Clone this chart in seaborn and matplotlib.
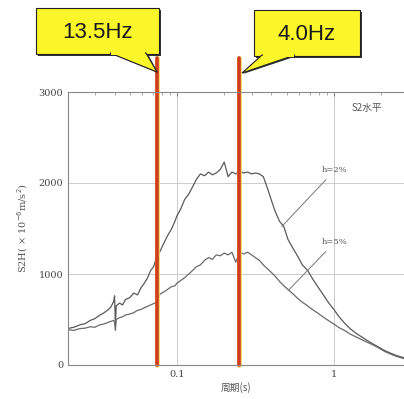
import numpy as np
import pandas as pd
import matplotlib
matplotlib.use("Agg")
import matplotlib.pyplot as plt
import seaborn as sns
from matplotlib.patches import Polygon, Rectangle
from matplotlib.ticker import MultipleLocator, FixedLocator

# periods (s) and spectrum values
periods = [0.020, 0.022, 0.024, 0.026, 0.028, 0.030, 0.032, 0.034, 0.036, 0.038,
           0.0395, 0.040, 0.0405, 0.041, 0.043, 0.045, 0.047, 0.050, 0.053, 0.056,
           0.059, 0.062, 0.065, 0.068, 0.071, 0.074, 0.078, 0.082, 0.087, 0.092,
           0.097, 0.10, 0.106, 0.112, 0.119, 0.126, 0.133, 0.141, 0.150, 0.159,
           0.168, 0.178, 0.189, 0.200, 0.212, 0.224, 0.237, 0.251, 0.266, 0.282,
           0.299, 0.316, 0.335, 0.355, 0.376, 0.398, 0.42, 0.45, 0.48, 0.51,
           0.55, 0.59, 0.63, 0.68, 0.73, 0.79, 0.85, 0.92, 1.0, 1.08,
           1.17, 1.27, 1.38, 1.5, 1.63, 1.78, 1.94, 2.1, 2.3, 2.5, 2.8]
h2 = [400, 415, 440, 455, 490, 510, 545, 570, 600, 640,
      700, 760, 430, 650, 680, 660, 720, 740, 790, 770,
      850, 900, 960, 1040, 1080, 1180, 1250, 1330, 1420, 1490,
      1580, 1640, 1720, 1820, 1880, 1960, 2040, 2100, 2080, 2120,
      2090, 2110, 2150, 2230, 2070, 2120, 2100, 2130, 2110, 2120,
      2100, 2110, 2100, 2070, 1950, 1820, 1700, 1580, 1520, 1380,
      1280, 1190, 1100, 1040, 950, 860, 780, 690, 610, 530,
      460, 400, 350, 310, 270, 230, 195, 160, 130, 105, 80]
h5 = [390, 380, 400, 405, 420, 415, 440, 450, 465, 480,
      490, 470, 380, 500, 520, 530, 550, 560, 575, 600,
      610, 630, 645, 660, 675, 690, 780, 800, 830, 860,
      870, 900, 930, 960, 1000, 1040, 1080, 1100, 1150, 1180,
      1160, 1210, 1200, 1230, 1210, 1240, 1130, 1240, 1220, 1240,
      1210, 1180, 1150, 1100, 1060, 1020, 980, 920, 870, 830,
      780, 730, 690, 650, 610, 570, 530, 490, 450, 410,
      380, 340, 310, 280, 250, 220, 185, 150, 120, 95, 70]
marks = [1 / 13.5, 1 / 4.0]
mark_labels = ["13.5Hz", "4.0Hz"]

df = pd.DataFrame({
    "period": periods * 2,
    "value": h2 + h5,
    "damping": ["h=2%"] * len(periods) + ["h=5%"] * len(periods),
})

sns.set_style("white")
plt.rcParams["font.family"] = ["DejaVu Serif", "Noto Sans CJK SC"]

fig = plt.figure(figsize=(4.04, 3.99), dpi=100)
ax = fig.add_axes([68 / 404, 1 - 365 / 399, 1 - 68 / 404, 273 / 399])

sns.lineplot(data=df, x="period", y="value", hue="damping",
             palette=["#5a5a5a", "#6a6a6a"], linewidth=0.9, legend=False, ax=ax)

ax.set_xscale("log")
ax.set_xlim(0.0202, 2.8)
ax.set_ylim(0, 3000)
ax.xaxis.set_major_locator(FixedLocator([0.1, 1]))
ax.set_xticklabels(["0.1", "1"])
ax.yaxis.set_major_locator(FixedLocator([0, 1000, 2000, 3000]))
ax.yaxis.set_minor_locator(MultipleLocator(100))
ax.tick_params(axis="both", which="major", labelsize=7, labelcolor="#444444",
               direction="in", length=3, color="#888888")
ax.tick_params(axis="both", which="minor", direction="in", length=2, color="#999999")
ax.tick_params(axis="x", top=True, which="both")
ax.grid(True, which="major", color="#cccccc", linewidth=0.7)
for s in ["left", "bottom", "top"]:
    ax.spines[s].set_color("#888888")
    ax.spines[s].set_linewidth(0.8)
ax.spines["right"].set_visible(False)

ax.set_xlabel("周期(s)", fontsize=7, color="#555555",
              family=["Noto Sans CJK SC", "DejaVu Sans"], labelpad=2)
ax.set_ylabel("S2H( × 10$^{-6}$m/s$^2$)", fontsize=7, color="#555555", labelpad=6)

ax.text(0.845, 0.93, "S2水平", transform=ax.transAxes, fontsize=7, color="#555555",
        family=["Noto Sans CJK SC", "DejaVu Sans"])
ax.annotate("h=2%", xy=(0.453, 1500), xytext=(0.84, 2140), fontsize=6, color="#555555",
            va="center", arrowprops=dict(arrowstyle="-", color="#777777", lw=0.7))
ax.annotate("h=5%", xy=(0.50, 800), xytext=(0.84, 1350), fontsize=6, color="#555555",
            va="center", arrowprops=dict(arrowstyle="-", color="#777777", lw=0.7))

# red marker lines extending above the axes
for m in marks:
    ax.axvline(m, ymin=0, ymax=(365 - 58) / 273, color="#f0d860", lw=3.4, clip_on=False)
    ax.axvline(m, ymin=0, ymax=(365 - 58) / 273, color="#d23c1e", lw=2.6, clip_on=False)

# callout boxes (pixel coords -> figure coords)
W, H = 404, 399
def fx(x):
    return x / W
def fy(y):
    return 1 - y / H

boxes = [(36, 8, 159, 54, (110, 54), (146, 54), (157, 72)),
         (254, 10, 360, 56, (262, 56), (295, 56), (242, 73))]
for (x0, y0, x1, y1, t1, t2, tip), lab in zip(boxes, mark_labels):
    fig.patches.append(Rectangle((fx(x0 + 2), fy(y1 + 2)), fx(x1 - x0), fy(y0) - fy(y1),
                                 transform=fig.transFigure, fc="#333333", ec="none", zorder=5))
    fig.patches.append(Polygon([(fx(t1[0] + 2), fy(t1[1])), (fx(t2[0] + 2), fy(t2[1])),
                                (fx(tip[0] + 1), fy(tip[1] + 1))],
                               transform=fig.transFigure, fc="#333333", ec="none", zorder=5))
    fig.patches.append(Rectangle((fx(x0), fy(y1)), fx(x1 - x0), fy(y0) - fy(y1),
                                 transform=fig.transFigure, fc="#fbf62a", ec="#222222",
                                 lw=0.8, zorder=6))
    fig.patches.append(Polygon([(fx(t1[0]), fy(t1[1] - 1)), (fx(t2[0]), fy(t2[1] - 1)),
                                (fx(tip[0]), fy(tip[1]))],
                               transform=fig.transFigure, fc="#fbf62a", ec="#222222",
                               lw=0.8, zorder=6))
    fig.patches.append(Rectangle((fx(t1[0] + 1), fy(y1 + 0.5)), fx(t2[0] - t1[0] - 2), fy(y1 - 2) - fy(y1 + 0.5),
                                 transform=fig.transFigure, fc="#fbf62a", ec="none", zorder=7))
    fig.text(fx((x0 + x1) / 2), fy((y0 + y1) / 2 + 1), lab, ha="center", va="center",
             fontsize=16, family="Liberation Sans", color="#1a1a1a", zorder=8)

fig.savefig("out.png", dpi=100)
